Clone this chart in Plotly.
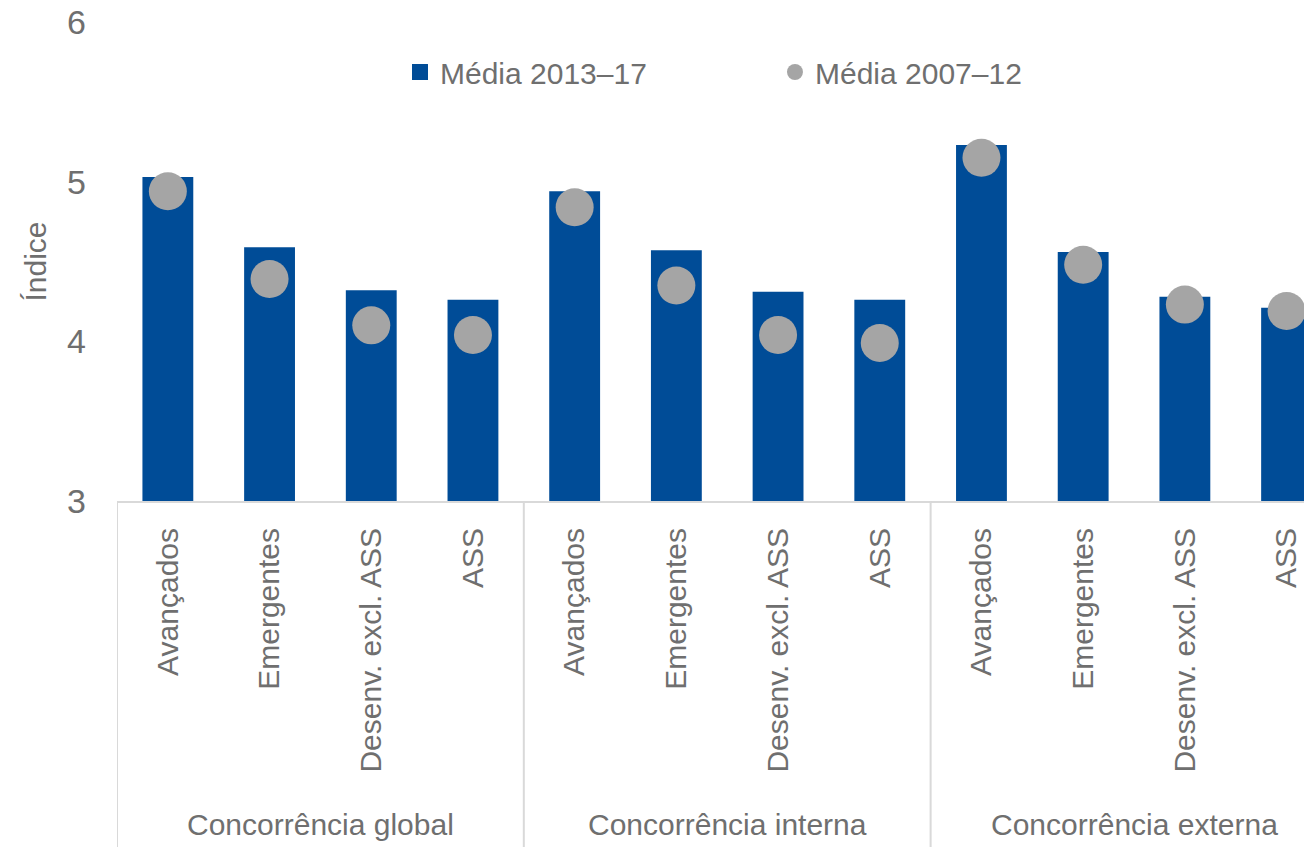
import plotly.graph_objects as go

groups = ["Concorrência global", "Concorrência interna", "Concorrência externa"]
categories = ["Avançados", "Emergentes", "Desenv. excl. ASS", "ASS"]
media_2013_17 = [5.03, 4.59, 4.32, 4.26, 4.94, 4.57, 4.31, 4.26, 5.23, 4.56, 4.28, 4.21]
media_2007_12 = [4.94, 4.39, 4.10, 4.04, 4.84, 4.35, 4.04, 3.99, 5.15, 4.48, 4.23, 4.19]
y_ticks = [3, 4, 5, 6]

FONT = "Liberation Sans, Arial, sans-serif"
GREY = "#6f6f6f"
BLUE = "#004C97"
DOT = "#A5A5A5"

n = len(groups) * len(categories)
xs = list(range(n))
tick_text = [c for g in groups for c in categories]

fig = go.Figure()
fig.add_trace(go.Bar(x=xs, y=media_2013_17, name="Média 2013–17", showlegend=False,
                     legendgroup="a", marker=dict(color=BLUE, line=dict(width=0)), width=0.5))
# legend entry with a larger square symbol for the bar series
fig.add_trace(go.Scatter(x=[None], y=[None], name="Média 2013–17", mode="markers",
                         legendgroup="a", marker=dict(color=BLUE, symbol="square", size=20)))
fig.add_trace(go.Scatter(x=xs, y=media_2007_12, name="Média 2007–12", mode="markers",
                         marker=dict(color=DOT, size=38, line=dict(width=0))))

# group dividers and labels
for gi, g in enumerate(groups):
    left = gi * len(categories) - 0.5
    fig.add_shape(type="line", xref="x", yref="paper", x0=left, x1=left, y0=0, y1=-0.73,
                  line=dict(color="#d9d9d9", width=2))
    fig.add_annotation(x=left + len(categories) / 2, xref="x", y=-0.676, yref="paper",
                       text=g, showarrow=False, font=dict(family=FONT, size=30, color=GREY),
                       xanchor="center", yanchor="middle")

fig.add_annotation(x=0, xref="paper", xshift=-82, y=0.5, yref="paper", text="Índice",
                   textangle=-90, showarrow=False, font=dict(family=FONT, size=30, color=GREY),
                   xanchor="center", yanchor="middle")

fig.update_layout(
    width=1304, height=839,
    margin=dict(l=109, r=0, t=14, b=346, autoexpand=False),
    paper_bgcolor="white", plot_bgcolor="white",
    showlegend=True,
    legend=dict(orientation="h", x=0.2368, y=0.8956, xanchor="left", yanchor="middle",
                font=dict(family=FONT, size=30, color=GREY),
                entrywidth=330, entrywidthmode="pixels", bgcolor="rgba(0,0,0,0)"),
    xaxis=dict(range=[-0.5, 11.25], tickvals=xs, ticktext=tick_text, tickangle=-90,
               showgrid=False, zeroline=False, showline=True, linecolor="#d9d9d9", linewidth=2,
               ticks="", ticklabelstandoff=13, automargin=False,
               tickfont=dict(family=FONT, size=30, color=GREY)),
    yaxis=dict(range=[3, 6], tickvals=y_ticks, showgrid=False, zeroline=False, showline=False,
               ticks="", ticklabelstandoff=30, automargin=False, ticklabeloverflow="allow",
               tickfont=dict(family=FONT, size=34, color=GREY)),
)

fig.write_html("out.html")
